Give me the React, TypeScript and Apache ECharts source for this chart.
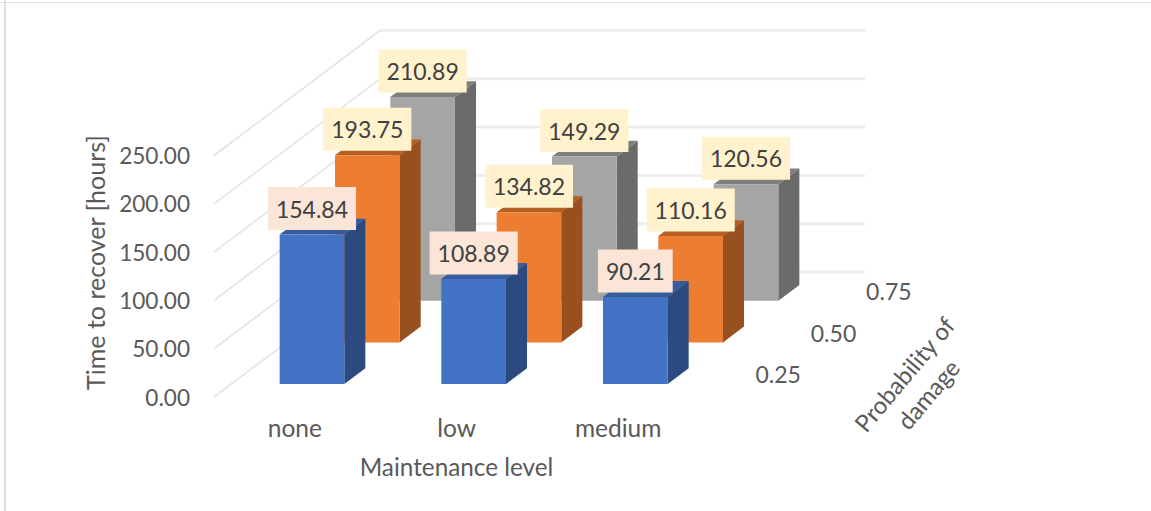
import React, { useEffect, useRef } from "react";
import * as echarts from "echarts";

// Recovery time in hours, per maintenance level, one list per damage probability.
const maintenanceLevels = ["none", "low", "medium"];
const damageProbabilities = ["0.25", "0.50", "0.75"];
const hoursAt025 = [154.84, 108.89, 90.21];
const hoursAt050 = [193.75, 134.82, 110.16];
const hoursAt075 = [210.89, 149.29, 120.56];
const hourTicks = [0, 50, 100, 150, 200, 250];

// Face colours of each box: front, side, top, and the fill behind its value.
const palettes = [
  { front: "#4472C4", side: "#2B4A80", top: "#365C9E", tag: "#FBE5D6" },
  { front: "#ED7D31", side: "#98501E", top: "#B55F24", tag: "#FFF2CC" },
  { front: "#A5A5A5", side: "#6B6B6B", top: "#7F7F7F", tag: "#FFF2CC" },
];

// Oblique projection: screen shift of the full depth of the floor.
const DEPTH_DX = 166;
const DEPTH_DY = -125;
const BAR_WIDTH_RATIO = 0.4;
const BAR_DEPTH_RATIO = 0.38;
const depthCount = damageProbabilities.length;

const FONT = "Lato";

function depthShift(d: number) {
  return [d * DEPTH_DX, d * DEPTH_DY];
}

function renderBar(depthIndex: number) {
  const colors = palettes[depthIndex];
  return (_params: any, api: any) => {
    const category = api.value(0);
    const value = api.value(1);
    const band = api.size([1, 0])[0];
    const halfW = (band * BAR_WIDTH_RATIO) / 2;
    const centre = (depthIndex + 0.5) / depthCount;
    const halfDepth = (BAR_DEPTH_RATIO / depthCount) / 2;
    const [fx, fy] = depthShift(centre - halfDepth);
    const [bx, by] = depthShift(centre + halfDepth);
    const base = api.coord([category, 0]);
    const head = api.coord([category, value]);
    const x0 = base[0] + fx - halfW;
    const x1 = base[0] + fx + halfW;
    const yb = base[1] + fy;
    const yt = head[1] + fy;
    const ox = bx - fx;
    const oy = by - fy;
    const polygon = (points: number[][], fill: string) => ({
      type: "polygon",
      shape: { points },
      style: { fill },
      silent: true,
    });
    return {
      type: "group",
      children: [
        polygon([[x1, yb], [x1 + ox, yb + oy], [x1 + ox, yt + oy], [x1, yt]], colors.side),
        polygon([[x0, yt], [x1, yt], [x1 + ox, yt + oy], [x0 + ox, yt + oy]], colors.top),
        polygon([[x0, yb], [x1, yb], [x1, yt], [x0, yt]], colors.front),
        {
          type: "text",
          z2: 100,
          x: (x0 + x1) / 2,
          y: yt - 26,
          style: {
            text: value.toFixed(2),
            align: "center",
            verticalAlign: "middle",
            fontFamily: FONT,
            fontSize: 23,
            fill: "#404040",
            backgroundColor: colors.tag,
            padding: [9, 8, 11, 8],
          },
        },
      ],
    };
  };
}

// Gridlines across the back wall and along the left wall.
function renderWallLine(_params: any, api: any) {
  const first = api.coord([0, api.value(0)]);
  const last = api.coord([maintenanceLevels.length - 1, api.value(0)]);
  const band = api.size([1, 0])[0];
  const xLeft = first[0] - band / 2;
  const xRight = last[0] + band / 2;
  const y = first[1];
  return {
    type: "group",
    children: [
      {
        type: "line",
        shape: { x1: xLeft, y1: y, x2: xLeft + DEPTH_DX, y2: y + DEPTH_DY },
        style: { stroke: "#E3E3E3", lineWidth: 1.6 },
      },
      {
        type: "line",
        shape: { x1: xLeft + DEPTH_DX, y1: y + DEPTH_DY, x2: xRight + DEPTH_DX, y2: y + DEPTH_DY },
        style: { stroke: "#EEEEEE", lineWidth: 3 },
      },
    ],
  };
}

// Tick labels of the depth axis, set along the right edge of the floor.
function renderDepthLabel(_params: any, api: any) {
  const index = api.value(0);
  const band = api.size([1, 0])[0];
  const corner = api.coord([maintenanceLevels.length - 1, 0]);
  const [sx, sy] = depthShift((index + 0.5) / depthCount);
  return {
    type: "text",
    x: corner[0] + band / 2 + sx + 51.5,
    y: corner[1] + sy - 2,
    style: {
      text: damageProbabilities[index],
      align: "center",
      verticalAlign: "middle",
      fontFamily: FONT,
      fontSize: 23,
      fill: "#595959",
    },
  };
}

const barRows = [hoursAt025, hoursAt050, hoursAt075];

export default function App() {
  const ref = useRef<HTMLDivElement>(null);

  useEffect(() => {
    const chart = echarts.init(ref.current!, undefined, { renderer: "svg" });
    // Nearest depth is painted last.
    const barSeries = [2, 1, 0].map((depthIndex) => ({
      type: "custom",
      name: damageProbabilities[depthIndex],
      renderItem: renderBar(depthIndex),
      data: barRows[depthIndex].map((v, i) => [i, v]),
      encode: { x: 0, y: 1 },
      clip: false,
      silent: true,
    }));
    chart.setOption({
      animation: false,
      backgroundColor: "#FFFFFF",
      grid: { left: 214, top: 155.5, width: 485, height: 241.5 },
      xAxis: {
        type: "category",
        data: maintenanceLevels,
        axisLine: { show: false },
        axisTick: { show: false },
        axisLabel: { fontFamily: FONT, fontSize: 24.5, color: "#595959", margin: 18 },
        name: "Maintenance level",
        nameLocation: "middle",
        nameGap: 57,
        nameTextStyle: { fontFamily: FONT, fontSize: 24.3, color: "#595959" },
      },
      yAxis: {
        type: "value",
        min: 0,
        max: 250,
        interval: 50,
        axisLine: { show: false },
        axisTick: { show: false },
        splitLine: { show: false },
        axisLabel: {
          fontFamily: FONT,
          fontSize: 22.6,
          color: "#595959",
          margin: 24,
          padding: [0, 0, 4, 0],
          formatter: (v: number) => v.toFixed(2),
        },
      },
      series: [
        {
          type: "custom",
          renderItem: renderWallLine,
          data: hourTicks.map((t) => [t]),
          encode: { y: 0 },
          clip: false,
          silent: true,
        },
        ...barSeries,
        {
          type: "custom",
          renderItem: renderDepthLabel,
          data: damageProbabilities.map((_, i) => [i]),
          clip: false,
          silent: true,
        },
      ],
      graphic: [
        { type: "rect", shape: { x: 4, y: 0, width: 2, height: 511 }, style: { fill: "#E0E0E0" } },
        { type: "rect", shape: { x: 0, y: 2, width: 1151, height: 1 }, style: { fill: "#E0E0E0" } },
        {
          type: "text",
          x: 95,
          y: 262.5,
          rotation: Math.PI / 2,
          style: {
            text: "Time to recover [hours]",
            align: "center",
            verticalAlign: "middle",
            fontFamily: FONT,
            fontSize: 25,
            fill: "#595959",
          },
        },
        {
          type: "text",
          x: 916,
          y: 384,
          rotation: (50 * Math.PI) / 180,
          style: {
            text: "Probability of\ndamage",
            align: "center",
            verticalAlign: "middle",
            fontFamily: FONT,
            fontSize: 24,
            lineHeight: 31,
            fill: "#595959",
          },
        },
      ],
    });
    return () => chart.dispose();
  }, []);

  return (
    <div
      ref={ref}
      style={{ position: "absolute", left: 0, top: 0, width: 1151, height: 511 }}
    />
  );
}
